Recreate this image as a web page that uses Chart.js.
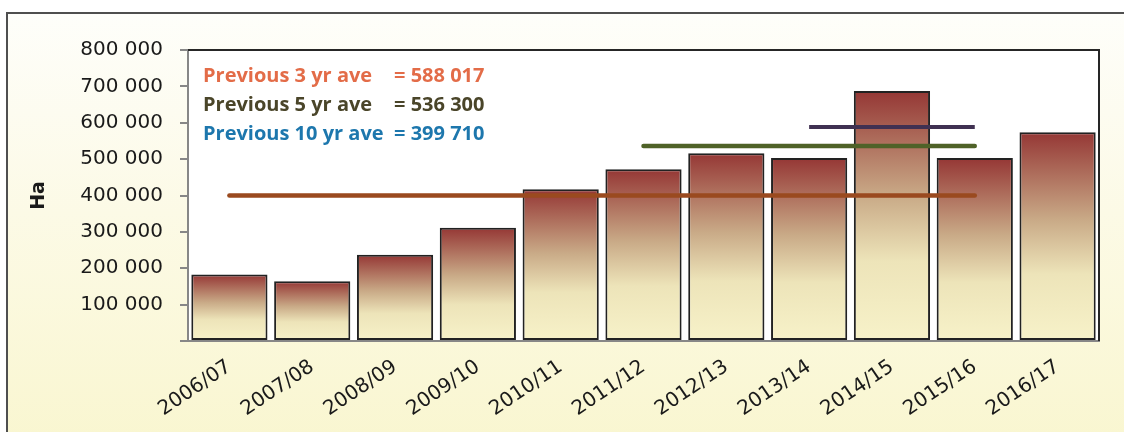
<!DOCTYPE html>
<html>
<head>
<meta charset="utf-8">
<script src="https://cdn.jsdelivr.net/npm/chart.js@4"></script>
<style>
    html, body { margin: 0; padding: 0; background: #ffffff; overflow: hidden; }
    #wrap { position: relative; width: 1124px; height: 432px; }
    #frame {
        position: absolute; left: 6px; top: 12px; width: 1130px; height: 440px;
        border: 2px solid #4f4f4f;
        background: linear-gradient(#fefefa 0%, #fcfae6 45%, #f9f6cf 100%);
    }
    #chartArea { position: absolute; left: 0; top: 0; }
</style>
</head>
<body>
<div id="wrap">
    <div id="frame"></div>
    <canvas id="chartArea" width="1124" height="432"></canvas>
</div>
<script>
// Categorias (temporadas)
var seasons = ['2006/07', '2007/08', '2008/09', '2009/10', '2010/11', '2011/12',
               '2012/13', '2013/14', '2014/15', '2015/16', '2016/17'];

// Superficie en Ha
var areaHa = [183000, 164000, 237000, 311000, 417000, 472000, 516000, 503000, 687000, 503000, 574000];

// Promedios anteriores
var avgLabels = ['Previous 3 yr ave', 'Previous 5 yr ave', 'Previous 10 yr ave'];
var avgValues = [588017, 536300, 399710];
var avgFrom = ['2013/14', '2011/12', '2006/07'];
var avgTo = ['2015/16', '2015/16', '2015/16'];

// Marcas del eje Y
var yTicks = [0, 100000, 200000, 300000, 400000, 500000, 600000, 700000, 800000];

var avgTextColors = ['#e36c48', '#4a4529', '#1d77ad'];
var avgLineColors = ['#403152', '#4f6228', '#9a4a1f'];
var avgLineWidths = [4, 4.5, 4.5];
var avgCaps = ['butt', 'round', 'round'];

function spaced(n) {
    return String(n).replace(/\B(?=(\d{3})+(?!\d))/g, ' ');
}

function avgLine(k) {
    var a = seasons.indexOf(avgFrom[k]);
    var b = seasons.indexOf(avgTo[k]);
    return seasons.map(function(s, i) { return (i >= a && i <= b) ? avgValues[k] : null; });
}

// Degradado por barra: rojo arriba, crema abajo
function barFill(context) {
    var chart = context.chart;
    var y = chart.scales.y;
    if (!chart.chartArea || !y || context.raw == null) return '#b07a60';
    var top = y.getPixelForValue(context.raw);
    var bottom = y.getPixelForValue(0);
    var g = chart.ctx.createLinearGradient(0, top, 0, bottom);
    g.addColorStop(0, '#953735');
    g.addColorStop(0.42, '#c9aa87');
    g.addColorStop(0.68, '#ede4b9');
    g.addColorStop(1, '#f7f2c9');
    return g;
}

var datasets = [];
for (var k = 0; k < avgValues.length; k++) {
    datasets.push({
        type: 'line',
        label: avgLabels[k],
        data: avgLine(k),
        borderColor: avgLineColors[k],
        borderWidth: avgLineWidths[k],
        borderCapStyle: avgCaps[k],
        pointRadius: 0,
        fill: false,
        spanGaps: false,
        order: 0
    });
}
datasets.push({
    type: 'bar',
    label: 'Ha',
    data: areaHa,
    backgroundColor: barFill,
    borderColor: '#222222',
    borderWidth: 2,
    borderSkipped: false,
    barPercentage: 0.92,
    categoryPercentage: 1,
    order: 1
});

// Fondo blanco y borde del area de trazado + texto de promedios
var plotBox = {
    id: 'plotBox',
    beforeDraw: function(chart) {
        var a = chart.chartArea, ctx = chart.ctx;
        ctx.save();
        ctx.fillStyle = '#ffffff';
        ctx.fillRect(a.left, a.top, a.right - a.left, a.bottom - a.top);
        ctx.restore();
    },
    afterDraw: function(chart) {
        var a = chart.chartArea, ctx = chart.ctx;
        ctx.save();
        ctx.strokeStyle = '#262626';
        ctx.lineWidth = 2;
        ctx.beginPath();
        ctx.moveTo(a.left, a.top);
        ctx.lineTo(a.right, a.top);
        ctx.lineTo(a.right, a.bottom);
        ctx.stroke();

        ctx.font = 'bold 20px "Open Sans"';
        ctx.textBaseline = 'middle';
        for (var i = 0; i < avgLabels.length; i++) {
            var ty = a.top + 26 + i * 29;
            ctx.fillStyle = avgTextColors[i];
            ctx.fillText(avgLabels[i], a.left + 15, ty);
            ctx.fillText('= ' + spaced(avgValues[i]), a.left + 206, ty);
        }
        ctx.restore();
    }
};

var ctxArea = document.getElementById('chartArea').getContext('2d');
new Chart(ctxArea, {
    data: {
        labels: seasons,
        datasets: datasets
    },
    options: {
        responsive: false,
        animation: false,
        layout: { padding: { left: 0, top: 50, right: 25, bottom: 0 } },
        plugins: {
            legend: { display: false },
            tooltip: { enabled: false }
        },
        scales: {
            x: {
                grid: { display: false, drawTicks: false },
                border: { display: true, color: '#878787', width: 2 },
                ticks: {
                    color: '#1a1a1a',
                    font: { family: 'DejaVu Sans', size: 20 },
                    minRotation: 34,
                    maxRotation: 34,
                    padding: 14,
                    autoSkip: false
                },
                afterFit: function(scale) { scale.height = 91; }
            },
            y: {
                min: 0,
                max: 800000,
                afterBuildTicks: function(scale) {
                    scale.ticks = yTicks.map(function(v) { return { value: v }; });
                },
                grid: {
                    drawOnChartArea: false,
                    drawTicks: true,
                    tickLength: 8,
                    tickColor: '#878787',
                    lineWidth: 2
                },
                border: { display: true, color: '#878787', width: 2 },
                ticks: {
                    color: '#1a1a1a',
                    font: { family: 'DejaVu Sans', size: 20 },
                    padding: 17,
                    callback: function(v) { return v === 0 ? '' : spaced(v); }
                },
                title: {
                    display: true,
                    text: 'Ha',
                    color: '#1a1a1a',
                    font: { family: 'DejaVu Sans', size: 19, weight: 'bold' },
                    padding: { top: 28, bottom: 0 }
                },
                afterFit: function(scale) { scale.width = 188; }
            }
        }
    },
    plugins: [plotBox]
});
</script>
</body>
</html>
